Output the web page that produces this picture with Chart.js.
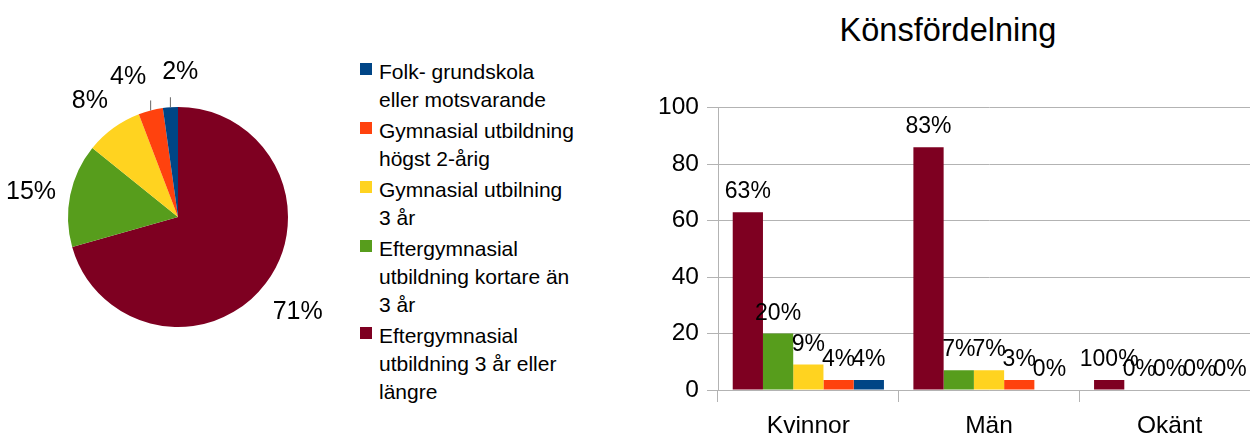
<!DOCTYPE html>
<html>
<head>
<meta charset="utf-8">
<script src="https://cdn.jsdelivr.net/npm/chart.js@4.4.1/dist/chart.umd.min.js"></script>
<style>
    body { margin: 0; background: #fff; font-family: "Liberation Sans", Arial, sans-serif; }
    #page { position: relative; width: 1250px; height: 438px; overflow: hidden; }
    #pieWrap { position: absolute; left: 0; top: 0; }
    #legend { position: absolute; left: 360px; top: 58px; font-size: 21px; line-height: 28px; color: #000; }
    .legend-item { display: flex; align-items: flex-start; margin-bottom: 3px; }
    .legend-box { width: 12px; height: 12px; margin-top: 5px; margin-right: 7px; flex: none; }
    .legend-text { white-space: pre-line; }
    #title { position: absolute; left: 640px; width: 616px; top: 14px; text-align: center; font-size: 32.5px; line-height: 33px; color: #000; }
    #barClip { position: absolute; left: 640px; top: 85px; width: 610px; height: 353px; overflow: hidden; }
</style>
</head>
<body>
<div id="page">
    <div id="pieWrap"><canvas id="pieChart" width="356" height="434"></canvas></div>
    <div id="legend"></div>
    <div id="title">Könsfördelning</div>
    <div id="barClip"><canvas id="barChart" width="630" height="353"></canvas></div>
</div>
<script>
// education levels, in legend order
const levels = [
    'Folk- grundskola\neller motsvarande',
    'Gymnasial utbildning\nhögst 2-årig',
    'Gymnasial utbilning\n3 år',
    'Eftergymnasial\nutbildning kortare än\n3 år',
    'Eftergymnasial\nutbildning 3 år eller\nlängre'
];
const levelColors = ['#004586', '#ff420e', '#ffd320', '#579d1c', '#7e0021'];

// pie: share per level (legend order)
const pieValues = [2.2, 3.6, 8.4, 15.2, 70.6];

// bar chart: gender categories, series in legend order
const categories = ['Kvinnor', 'Män', 'Okänt'];
const folkValues = [3.5, 0, 0];
const gym2Values = [3.5, 3.5, 0];
const gym3Values = [9, 7, 0];
const eftKortValues = [20, 7, 0];
const eft3Values = [63, 86, 3.5];

const folkLabels = ['4%', '0%', '0%'];
const gym2Labels = ['4%', '3%', '0%'];
const gym3Labels = ['9%', '7%', '0%'];
const eftKortLabels = ['20%', '7%', '0%'];
const eft3Labels = ['63%', '83%', '100%'];

const yTicks = [0, 20, 40, 60, 80, 100];

const FONT = '"Liberation Sans", Arial, sans-serif';
const GRID = '#b3b3b3';

// legend
const legendDiv = document.getElementById('legend');
legendDiv.innerHTML = levels.map((txt, i) => `
    <div class="legend-item">
        <div class="legend-box" style="background:${levelColors[i]}"></div>
        <div class="legend-text">${txt}</div>
    </div>`).join('');

// pie labels outside the slices, pushed apart when they collide
const pieLabelPlugin = {
    id: 'pieLabels',
    afterDatasetsDraw(chart) {
        const ctx = chart.ctx;
        const meta = chart.getDatasetMeta(0);
        const data = chart.data.datasets[0].data;
        const total = data.reduce((a, b) => a + b, 0);
        ctx.save();
        ctx.font = '25px ' + FONT;
        const items = meta.data.map((arc, i) => {
            const mid = (arc.startAngle + arc.endAngle) / 2;
            const dist = arc.outerRadius + 40;
            const text = Math.round(data[i] / total * 100) + '%';
            return {
                arc, mid, text,
                x: arc.x + Math.cos(mid) * dist,
                y: arc.y + Math.sin(mid) * dist + 5,
                w: ctx.measureText(text).width,
                moved: false
            };
        });
        // resolve overlaps between neighbours (walk backwards so small slices settle first)
        for (let i = items.length - 1; i > 0; i--) {
            const a = items[i], b = items[i - 1];
            const need = (a.w + b.w) / 2 + 16;
            const dx = a.x - b.x;
            if (Math.abs(dx) < need && Math.abs(a.y - b.y) < 14) {
                const push = (need - Math.abs(dx)) / 2;
                const s = dx >= 0 ? 1 : -1;
                a.x += s * push; b.x -= s * push;
                a.moved = b.moved = true;
            }
        }
        ctx.fillStyle = '#000';
        ctx.textAlign = 'center';
        ctx.textBaseline = 'middle';
        ctx.strokeStyle = '#666';
        ctx.lineWidth = 1;
        items.forEach(it => {
            if (it.moved) {
                const r = it.arc.outerRadius;
                const ex = it.arc.x + Math.cos(it.mid) * r;
                const ey = it.arc.y + Math.sin(it.mid) * r;
                ctx.beginPath();
                ctx.moveTo(ex, ey);
                ctx.lineTo(ex, ey - 10);
                ctx.stroke();
            }
            ctx.fillText(it.text, it.x, it.y);
        });
        ctx.restore();
    }
};

// pie is drawn counter-clockwise in the original, so feed it reversed
new Chart(document.getElementById('pieChart'), {
    type: 'pie',
    data: {
        labels: levels.slice().reverse(),
        datasets: [{
            data: pieValues.slice().reverse(),
            backgroundColor: levelColors.slice().reverse(),
            borderWidth: 0
        }]
    },
    options: {
        responsive: false,
        animation: false,
        layout: { padding: { left: 68, right: 68, top: 107, bottom: 107 } },
        plugins: { legend: { display: false }, tooltip: { enabled: false } }
    },
    plugins: [pieLabelPlugin]
});

// value labels above the bars
const barLabelPlugin = {
    id: 'barLabels',
    afterDatasetsDraw(chart) {
        const ctx = chart.ctx;
        ctx.save();
        ctx.font = '23px ' + FONT;
        ctx.fillStyle = '#000';
        ctx.textAlign = 'center';
        ctx.textBaseline = 'alphabetic';
        chart.data.datasets.forEach((ds, d) => {
            chart.getDatasetMeta(d).data.forEach((bar, i) => {
                ctx.fillText(ds.valueLabels[i], bar.x, bar.y - 14);
            });
        });
        ctx.restore();
    }
};

// bar order: longest education first, like the original
const barSeries = [
    { data: eft3Values, labels: eft3Labels, color: levelColors[4], name: levels[4] },
    { data: eftKortValues, labels: eftKortLabels, color: levelColors[3], name: levels[3] },
    { data: gym3Values, labels: gym3Labels, color: levelColors[2], name: levels[2] },
    { data: gym2Values, labels: gym2Labels, color: levelColors[1], name: levels[1] },
    { data: folkValues, labels: folkLabels, color: levelColors[0], name: levels[0] }
];

// plot area runs a little past the right edge of the picture, as in the original
new Chart(document.getElementById('barChart'), {
    type: 'bar',
    data: {
        labels: categories,
        datasets: barSeries.map(s => ({
            label: s.name,
            data: s.data,
            valueLabels: s.labels,
            backgroundColor: s.color,
            borderWidth: 0,
            categoryPercentage: 0.837,
            barPercentage: 1
        }))
    },
    options: {
        responsive: false,
        animation: false,
        layout: { padding: { top: 14, right: 10, left: 0, bottom: 0 } },
        scales: {
            x: {
                grid: { drawOnChartArea: false, tickLength: 12, color: GRID },
                border: { color: GRID },
                ticks: { color: '#000', font: { family: FONT, size: 24.5 }, padding: 10 },
                afterFit: s => { s.height = 48; }
            },
            y: {
                min: 0,
                max: 100,
                afterBuildTicks: s => { s.ticks = yTicks.map(v => ({ value: v })); },
                grid: { color: GRID, tickLength: 11 },
                border: { color: GRID },
                ticks: { color: '#000', font: { family: FONT, size: 24.5 }, padding: 8 },
                afterFit: s => { s.width = 78; }
            }
        },
        plugins: { legend: { display: false }, tooltip: { enabled: false } }
    },
    plugins: [barLabelPlugin]
});
</script>
</body>
</html>
